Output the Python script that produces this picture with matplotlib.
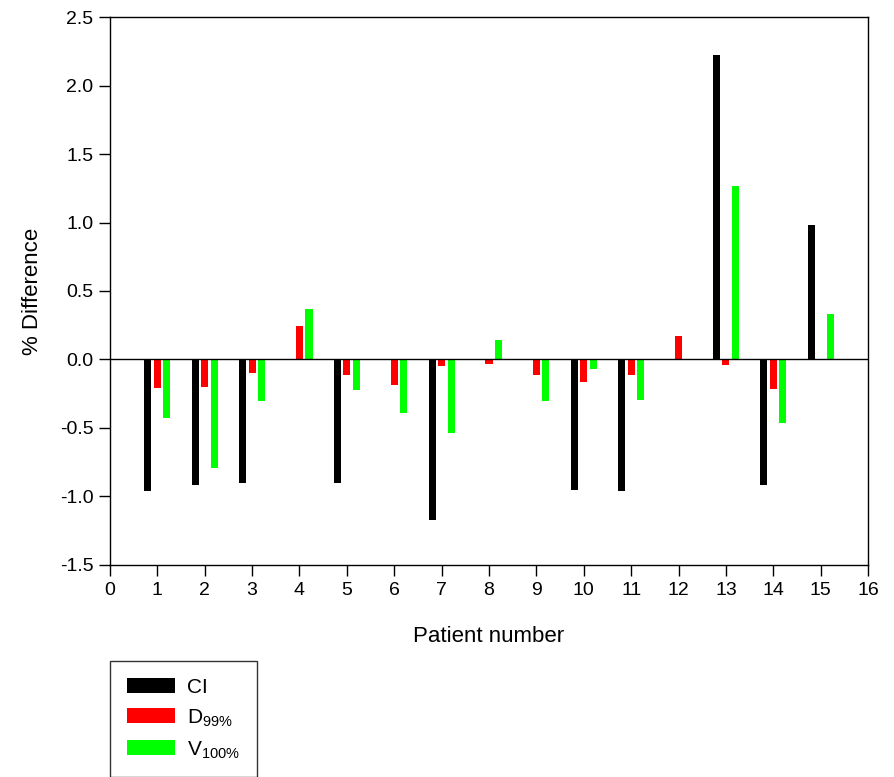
import numpy as np
import matplotlib
matplotlib.use("Agg")
import matplotlib.pyplot as plt

plt.rcParams['font.family'] = ['Liberation Sans', 'DejaVu Sans']
plt.rcParams['mathtext.fontset'] = 'custom'
plt.rcParams['mathtext.rm'] = 'Liberation Sans'

patients = np.arange(1, 16)
nan = np.nan
ci = [-0.96, -0.915, -0.90, nan, -0.90, nan, -1.175, nan, nan, -0.95, -0.96, nan, 2.22, -0.915, 0.985]
d99 = [-0.21, -0.20, -0.10, 0.245, -0.115, -0.19, -0.05, -0.03, -0.11, -0.165, -0.11, 0.173, -0.044, -0.215, nan]
v100 = [-0.43, -0.79, -0.30, 0.365, -0.226, -0.39, -0.535, 0.145, -0.30, -0.073, -0.297, nan, 1.265, -0.465, 0.33]

fig = plt.figure(figsize=(8.94, 7.77), dpi=100)
ax = fig.add_axes([0.123, 0.273, 0.848, 0.705])

w = 0.15
b1 = ax.bar(patients - 0.2, ci, w, color='black', label='CI')
b2 = ax.bar(patients, d99, w, color='#ff0000', label=r'D$_{\mathrm{99\%}}$')
b3 = ax.bar(patients + 0.2, v100, w, color='#00ff00', label=r'V$_{\mathrm{100\%}}$')
ax.axhline(0, color='black', lw=1)

ax.set_xlim(0, 16)
ax.set_ylim(-1.5, 2.5)
ax.set_xticks(range(0, 17))
ax.set_yticks(np.arange(-1.5, 2.51, 0.5))
ax.set_yticklabels(['%.1f' % v for v in np.arange(-1.5, 2.51, 0.5)])
ax.tick_params(direction='out', length=8, labelsize=14, width=1, pad=4)
ax.set_xlabel('Patient number', fontsize=16, labelpad=20)
ax.set_ylabel('% Difference', fontsize=16, labelpad=12)
for s in ax.spines.values():
    s.set_linewidth(1)

fig.legend(handles=[b1, b2, b3], loc='upper left', bbox_to_anchor=(110/894, 1-661/777),
           frameon=True, fancybox=False, edgecolor='black', fontsize=15,
           handlelength=2.3, handleheight=0.75, handletextpad=0.6,
           borderpad=0.8, labelspacing=0.5, borderaxespad=0)

fig.savefig('out.png', dpi=100)
